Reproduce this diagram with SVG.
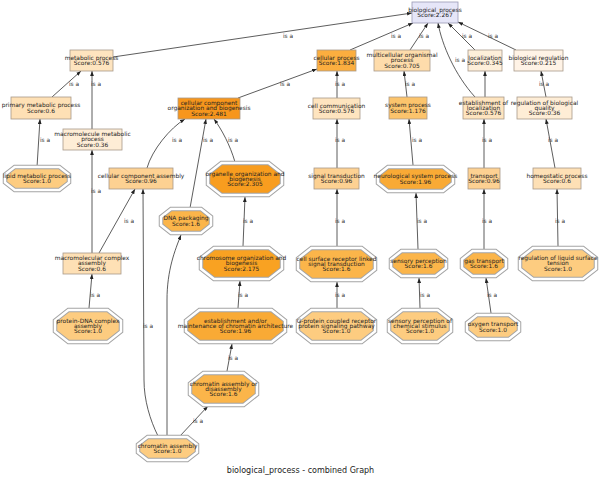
<svg xmlns="http://www.w3.org/2000/svg" width="600" height="479" viewBox="0 0 600 479">
<defs>
<style>
text{font-family:"DejaVu Sans","Liberation Sans",sans-serif;fill:#222;}
.t{font-size:5.9px;text-anchor:middle;}
.l{font-size:5.9px;text-anchor:middle;fill:#333;}
.r{stroke:#a89a8a;stroke-width:0.8;}
.o{stroke:#a4a4a4;stroke-width:4.5;}
.w{fill:none;stroke:#fff;stroke-width:2.5;}
.e{fill:none;stroke:#333;stroke-width:0.8;marker-end:url(#arr);}
.c0{fill:#e6e6f8;stroke:#9a9ab4;}
.s248{fill:#f7961c;}
.s230{fill:#f89d1f;}
.s217{fill:#f9a222;}
.s196{fill:#f9aa35;}
.s183{fill:#fbae3f;}
.s160{fill:#fbb54a;}
.s117{fill:#fcc46c;}
.s100{fill:#fdcc80;}
.s096{fill:#fdd192;}
.s070{fill:#fedcab;}
.s060{fill:#fee0b5;}
.s057{fill:#fee4bf;}
.s036{fill:#feedd6;}
.s034{fill:#feefda;}
.s021{fill:#fff3e6;}
</style>
<marker id="arr" viewBox="0 0 8 6" refX="8" refY="3" markerWidth="5" markerHeight="3.8" markerUnits="userSpaceOnUse" orient="auto"><path d="M0,0 L8,3 L0,6 z" fill="#222"/></marker>
</defs>
<rect width="600" height="479" fill="#fff"/>

<g id="edges">
<path class="e" d="M113,57 L412,13"/>
<path class="e" d="M350,50 L413,23"/>
<path class="e" d="M410,50 L428,23"/>
<path class="e" d="M475,97 C455,75 442,45 438,23"/>
<path class="e" d="M475,50 L448,23"/>
<path class="e" d="M516,50 L458,22"/>
<path class="e" d="M52,97 L81,71"/>
<path class="e" d="M92,129 L92,71"/>
<path class="e" d="M37,167 L40,119"/>
<path class="e" d="M92,253 L92,150"/>
<path class="e" d="M147,168 C152,150 170,128 185,119"/>
<path class="e" d="M190,208 L206,119"/>
<path class="e" d="M235,162 C230,145 222,130 214,119"/>
<path class="e" d="M238,98 L317,69"/>
<path class="e" d="M337,98 L337,71"/>
<path class="e" d="M407,97 L404,71"/>
<path class="e" d="M485,97 L485,71"/>
<path class="e" d="M546,97 L541,71"/>
<path class="e" d="M99,253 L135,189"/>
<path class="e" d="M158,436 C150,420 144,400 144,380 L143,189"/>
<path class="e" d="M167,436 L167,300 C167,270 175,250 181,235"/>
<path class="e" d="M337,168 L337,119"/>
<path class="e" d="M413,165 L409,119"/>
<path class="e" d="M484,168 L484,119"/>
<path class="e" d="M555,168 L546,119"/>
<path class="e" d="M243,246 L245,197"/>
<path class="e" d="M337,246 L337,189"/>
<path class="e" d="M418,249 L416,193"/>
<path class="e" d="M484,249 L484,189"/>
<path class="e" d="M558,246 L557,189"/>
<path class="e" d="M89,308 L92,274"/>
<path class="e" d="M238,308 L240,281"/>
<path class="e" d="M337,309 L337,282"/>
<path class="e" d="M420,308 L419,278"/>
<path class="e" d="M491,313 L486,278"/>
<path class="e" d="M227,371 L232,344"/>
<path class="e" d="M180,436 L208,406"/>
<g id="edge-labels">
<text class="l" x="288" y="38">is a</text>
<text class="l" x="396" y="38">is a</text>
<text class="l" x="424" y="38">is a</text>
<text class="l" x="460" y="62">is a</text>
<text class="l" x="467" y="38">is a</text>
<text class="l" x="493" y="38">is a</text>
<text class="l" x="74" y="86">is a</text>
<text class="l" x="96" y="86">is a</text>
<text class="l" x="45" y="142">is a</text>
<text class="l" x="96" y="193">is a</text>
<text class="l" x="177" y="142">is a</text>
<text class="l" x="208" y="142">is a</text>
<text class="l" x="233" y="142">is a</text>
<text class="l" x="285" y="86">is a</text>
<text class="l" x="340" y="86">is a</text>
<text class="l" x="410" y="86">is a</text>
<text class="l" x="544" y="86">is a</text>
<text class="l" x="129" y="223">is a</text>
<text class="l" x="148" y="328">is a</text>
<text class="l" x="340" y="142">is a</text>
<text class="l" x="417" y="142">is a</text>
<text class="l" x="487" y="142">is a</text>
<text class="l" x="553" y="142">is a</text>
<text class="l" x="248" y="223">is a</text>
<text class="l" x="340" y="223">is a</text>
<text class="l" x="422" y="223">is a</text>
<text class="l" x="487" y="223">is a</text>
<text class="l" x="560" y="223">is a</text>
<text class="l" x="95" y="297">is a</text>
<text class="l" x="243" y="297">is a</text>
<text class="l" x="340" y="297">is a</text>
<text class="l" x="425" y="297">is a</text>
<text class="l" x="492" y="297">is a</text>
<text class="l" x="233" y="360">is a</text>
<text class="l" x="198" y="423">is a</text>
</g>
</g>

<g id="n-biological_process"><rect class="r c0" x="412" y="2" width="46" height="21"/><text class="t"><tspan x="435" y="11.8">biological_process</tspan><tspan x="435" y="17">Score:2.267</tspan></text></g>
<g id="n-metabolic_process"><rect class="r s057" x="70" y="50" width="43" height="21"/><text class="t"><tspan x="91.5" y="59.8">metabolic process</tspan><tspan x="91.5" y="65">Score:0.576</tspan></text></g>
<g id="n-cellular_process"><rect class="r s183" x="317" y="50" width="39" height="21"/><text class="t"><tspan x="336.5" y="59.8">cellular process</tspan><tspan x="336.5" y="65">Score:1.834</tspan></text></g>
<g id="n-multicellular"><rect class="r s070" x="374" y="50" width="56" height="21"/><text class="t"><tspan x="402" y="57.2">multicellular organismal</tspan><tspan x="402" y="62.4">process</tspan><tspan x="402" y="67.6">Score:0.705</tspan></text></g>
<g id="n-localization"><rect class="r s034" x="468" y="50" width="34" height="21"/><text class="t"><tspan x="485" y="59.8">localization</tspan><tspan x="485" y="65">Score:0.345</tspan></text></g>
<g id="n-biological_regulation"><rect class="r s021" x="514" y="50" width="49" height="21"/><text class="t"><tspan x="538.5" y="59.8">biological regulation</tspan><tspan x="538.5" y="65">Score:0.215</tspan></text></g>
<g id="n-primary_metabolic"><rect class="r s060" x="11" y="97" width="60" height="22"/><text class="t"><tspan x="41" y="107.3">primary metabolic process</tspan><tspan x="41" y="112.5">Score:0.6</tspan></text></g>
<g id="n-cc_org_biogenesis"><rect class="r s248" x="178" y="98" width="62" height="21"/><text class="t"><tspan x="209" y="105.2">cellular component</tspan><tspan x="209" y="110.4">organization and biogenesis</tspan><tspan x="209" y="115.6">Score:2.481</tspan></text></g>
<g id="n-cell_communication"><rect class="r s057" x="313" y="98" width="47" height="21"/><text class="t"><tspan x="336.5" y="107.8">cell communication</tspan><tspan x="336.5" y="113">Score:0.576</tspan></text></g>
<g id="n-system_process"><rect class="r s117" x="389" y="97" width="38" height="22"/><text class="t"><tspan x="408" y="107.3">system process</tspan><tspan x="408" y="112.5">Score:1.176</tspan></text></g>
<g id="n-establishment_localization"><rect class="r s057" x="463" y="97" width="41" height="22"/><text class="t"><tspan x="483.5" y="104.7">establishment of</tspan><tspan x="483.5" y="109.9">localization</tspan><tspan x="483.5" y="115.1">Score:0.576</tspan></text></g>
<g id="n-reg_biological_quality"><rect class="r s036" x="517" y="97" width="55" height="22"/><text class="t"><tspan x="544.5" y="104.7">regulation of biological</tspan><tspan x="544.5" y="109.9">quality</tspan><tspan x="544.5" y="115.1">Score:0.36</tspan></text></g>
<g id="n-macromolecule_metabolic"><rect class="r s036" x="63" y="129" width="59" height="21"/><text class="t"><tspan x="92.5" y="136.2">macromolecule metabolic</tspan><tspan x="92.5" y="141.4">process</tspan><tspan x="92.5" y="146.6">Score:0.36</tspan></text></g>
<g id="n-cc_assembly"><rect class="r s096" x="109" y="168" width="64" height="21"/><text class="t"><tspan x="141" y="177.8">cellular component assembly</tspan><tspan x="141" y="183">Score:0.96</tspan></text></g>
<g id="n-signal_transduction"><rect class="r s096" x="314" y="168" width="45" height="21"/><text class="t"><tspan x="336.5" y="177.8">signal transduction</tspan><tspan x="336.5" y="183">Score:0.96</tspan></text></g>
<g id="n-transport"><rect class="r s096" x="468" y="168" width="32" height="21"/><text class="t"><tspan x="484" y="177.8">transport</tspan><tspan x="484" y="183">Score:0.96</tspan></text></g>
<g id="n-homeostatic"><rect class="r s060" x="533" y="168" width="48" height="21"/><text class="t"><tspan x="557" y="177.8">homeostatic process</tspan><tspan x="557" y="183">Score:0.6</tspan></text></g>
<g id="n-macromolecular_complex"><rect class="r s060" x="63" y="253" width="58" height="21"/><text class="t"><tspan x="92" y="260.2">macromolecular complex</tspan><tspan x="92" y="265.4">assembly</tspan><tspan x="92" y="270.6">Score:0.6</tspan></text></g>

<g id="n-lipid_metabolic"><polygon class="o s100" points="14.7,167 59.3,167 69,174.6 69,182.4 59.3,190 14.7,190 5,182.4 5,174.6"/><polygon class="w" points="14.7,167 59.3,167 69,174.6 69,182.4 59.3,190 14.7,190 5,182.4 5,174.6"/><text class="t"><tspan x="37" y="177.8">lipid metabolic process</tspan><tspan x="37" y="183">Score:1.0</tspan></text></g>
<g id="n-organelle_org"><polygon class="o s230" points="221.4,163 268.6,163 282,173.6 282,184.4 268.6,195 221.4,195 208,184.4 208,173.6"/><polygon class="w" points="221.4,163 268.6,163 282,173.6 282,184.4 268.6,195 221.4,195 208,184.4 208,173.6"/><text class="t"><tspan x="245" y="175.7">organelle organization and</tspan><tspan x="245" y="180.9">biogenesis</tspan><tspan x="245" y="186.1">Score:2.305</tspan></text></g>
<g id="n-neurological"><polygon class="o s196" points="388,167 443,167 453,174.9 453,183.1 443,191 388,191 378,183.1 378,174.9"/><polygon class="w" points="388,167 443,167 453,174.9 453,183.1 443,191 388,191 378,183.1 378,174.9"/><text class="t"><tspan x="415.5" y="178.3">neurological system process</tspan><tspan x="415.5" y="183.5">Score:1.96</tspan></text></g>
<g id="n-dna_packaging"><polygon class="o s160" points="171,209 201,209 211,216.9 211,225.1 201,233 171,233 161,225.1 161,216.9"/><polygon class="w" points="171,209 201,209 211,216.9 211,225.1 201,233 171,233 161,225.1 161,216.9"/><text class="t"><tspan x="186" y="220.3">DNA packaging</tspan><tspan x="186" y="225.5">Score:1.6</tspan></text></g>
<g id="n-chromosome_org"><polygon class="o s217" points="214,248 269,248 282,258.2 282,268.8 269,279 214,279 201,268.8 201,258.2"/><polygon class="w" points="214,248 269,248 282,258.2 282,268.8 269,279 214,279 201,268.8 201,258.2"/><text class="t"><tspan x="241.5" y="260.2">chromosome organization and</tspan><tspan x="241.5" y="265.4">biogenesis</tspan><tspan x="241.5" y="270.6">Score:2.175</tspan></text></g>
<g id="n-cell_surface_receptor"><polygon class="o s160" points="311.4,248 361.6,248 375,258.6 375,269.4 361.6,280 311.4,280 298,269.4 298,258.6"/><polygon class="w" points="311.4,248 361.6,248 375,258.6 375,269.4 361.6,280 311.4,280 298,269.4 298,258.6"/><text class="t"><tspan x="336.5" y="260.7">cell surface receptor linked</tspan><tspan x="336.5" y="265.9">signal transduction</tspan><tspan x="336.5" y="271.1">Score:1.6</tspan></text></g>
<g id="n-sensory_perception"><polygon class="o s160" points="401.5,251 435.5,251 446,259.3 446,267.8 435.5,276 401.5,276 391,267.8 391,259.3"/><polygon class="w" points="401.5,251 435.5,251 446,259.3 446,267.8 435.5,276 401.5,276 391,267.8 391,259.3"/><text class="t"><tspan x="418.5" y="262.8">sensory perception</tspan><tspan x="418.5" y="268">Score:1.6</tspan></text></g>
<g id="n-gas_transport"><polygon class="o s160" points="472.5,251 495.5,251 506,259.3 506,267.8 495.5,276 472.5,276 462,267.8 462,259.3"/><polygon class="w" points="472.5,251 495.5,251 506,259.3 506,267.8 495.5,276 472.5,276 462,267.8 462,259.3"/><text class="t"><tspan x="484" y="262.8">gas transport</tspan><tspan x="484" y="268">Score:1.6</tspan></text></g>
<g id="n-reg_liquid_surface"><polygon class="o s100" points="533,248 583,248 596,258.2 596,268.8 583,279 533,279 520,268.8 520,258.2"/><polygon class="w" points="533,248 583,248 596,258.2 596,268.8 583,279 533,279 520,268.8 520,258.2"/><text class="t"><tspan x="558" y="260.2">regulation of liquid surface</tspan><tspan x="558" y="265.4">tension</tspan><tspan x="558" y="270.6">Score:1.0</tspan></text></g>
<g id="n-protein_dna"><polygon class="o s100" points="68.4,310 107.6,310 121,320.6 121,331.4 107.6,342 68.4,342 55,331.4 55,320.6"/><polygon class="w" points="68.4,310 107.6,310 121,320.6 121,331.4 107.6,342 68.4,342 55,331.4 55,320.6"/><text class="t"><tspan x="88" y="322.7">protein-DNA complex</tspan><tspan x="88" y="327.9">assembly</tspan><tspan x="88" y="333.1">Score:1.0</tspan></text></g>
<g id="n-chromatin_architecture"><polygon class="o s196" points="199.4,310 271.6,310 285,320.6 285,331.4 271.6,342 199.4,342 186,331.4 186,320.6"/><polygon class="w" points="199.4,310 271.6,310 285,320.6 285,331.4 271.6,342 199.4,342 186,331.4 186,320.6"/><text class="t"><tspan x="235.5" y="322.7">establishment and/or</tspan><tspan x="235.5" y="327.9">maintenance of chromatin architecture</tspan><tspan x="235.5" y="333.1">Score:1.96</tspan></text></g>
<g id="n-gprotein"><polygon class="o s100" points="311.4,310 361.6,310 375,320.6 375,331.4 361.6,342 311.4,342 298,331.4 298,320.6"/><polygon class="w" points="311.4,310 361.6,310 375,320.6 375,331.4 361.6,342 311.4,342 298,331.4 298,320.6"/><text class="t"><tspan x="336.5" y="322.7">G-protein coupled receptor</tspan><tspan x="336.5" y="327.9">protein signaling pathway</tspan><tspan x="336.5" y="333.1">Score:1.0</tspan></text></g>
<g id="n-sensory_chemical"><polygon class="o s100" points="402.4,310 437.6,310 451,320.6 451,331.4 437.6,342 402.4,342 389,331.4 389,320.6"/><polygon class="w" points="402.4,310 437.6,310 451,320.6 451,331.4 437.6,342 402.4,342 389,331.4 389,320.6"/><text class="t"><tspan x="420" y="322.7">sensory perception of</tspan><tspan x="420" y="327.9">chemical stimulus</tspan><tspan x="420" y="333.1">Score:1.0</tspan></text></g>
<g id="n-oxygen_transport"><polygon class="o s100" points="477,315 509,315 519,322.9 519,331.1 509,339 477,339 467,331.1 467,322.9"/><polygon class="w" points="477,315 509,315 519,322.9 519,331.1 509,339 477,339 467,331.1 467,322.9"/><text class="t"><tspan x="493" y="326.3">oxygen transport</tspan><tspan x="493" y="331.5">Score:1.0</tspan></text></g>
<g id="n-chromatin_asm_disasm"><polygon class="o s160" points="203.4,373 243.6,373 257,383.6 257,394.4 243.6,405 203.4,405 190,394.4 190,383.6"/><polygon class="w" points="203.4,373 243.6,373 257,383.6 257,394.4 243.6,405 203.4,405 190,394.4 190,383.6"/><text class="t"><tspan x="223.5" y="385.7">chromatin assembly or</tspan><tspan x="223.5" y="390.9">disassembly</tspan><tspan x="223.5" y="396.1">Score:1.6</tspan></text></g>
<g id="n-chromatin_assembly"><polygon class="o s100" points="147.7,437 187.3,437 197,444.6 197,452.4 187.3,460 147.7,460 138,452.4 138,444.6"/><polygon class="w" points="147.7,437 187.3,437 197,444.6 197,452.4 187.3,460 147.7,460 138,452.4 138,444.6"/><text class="t"><tspan x="167.5" y="447.8">chromatin assembly</tspan><tspan x="167.5" y="453">Score:1.0</tspan></text></g>

<text x="300.5" y="473" font-size="8" text-anchor="middle" fill="#333">biological_process - combined Graph</text>
</svg>
